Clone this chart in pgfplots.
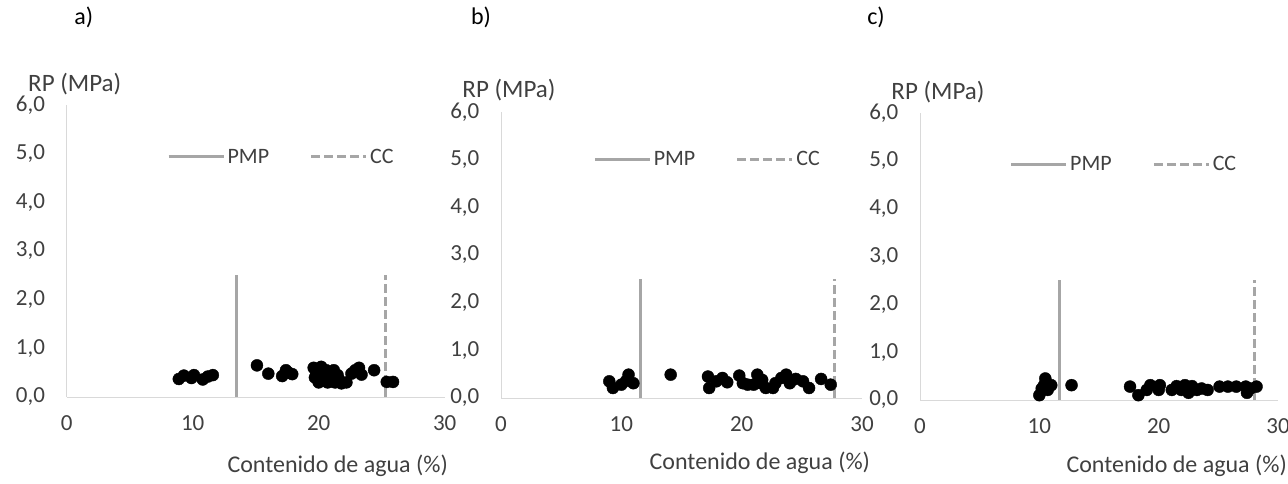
\documentclass[border=0pt]{standalone}
\usepackage{fontspec}
\setmainfont{Carlito}
\usepackage{pgfplots}
\usepackage{pgfplotstable}
\pgfplotsset{compat=1.18}
\definecolor{axgray}{HTML}{D9D9D9}
\definecolor{lgray}{HTML}{A6A6A6}
\definecolor{txt}{HTML}{404040}

\pgfplotstableread{
x y
8.9 0.37
9.3 0.44
9.9 0.39
10.1 0.45
10.8 0.36
11.2 0.42
11.6 0.45
15.1 0.65
16.0 0.48
17.1 0.43
17.4 0.55
17.6 0.50
17.9 0.47
19.6 0.60
19.7 0.40
19.8 0.50
20.0 0.30
20.2 0.62
20.3 0.45
20.4 0.36
20.6 0.55
20.7 0.30
20.9 0.42
21.0 0.32
21.2 0.55
21.3 0.30
21.5 0.45
21.6 0.36
21.8 0.28
22.2 0.30
22.6 0.48
22.9 0.55
23.2 0.60
23.4 0.46
24.4 0.55
25.4 0.31
25.9 0.31
}\dataA

\pgfplotstableread{
x y
9.0 0.35
9.3 0.21
10.0 0.28
10.4 0.36
10.6 0.49
11.0 0.31
14.1 0.49
17.2 0.45
17.3 0.21
17.9 0.35
18.4 0.42
18.8 0.33
19.8 0.47
20.1 0.31
20.5 0.28
21.0 0.28
21.3 0.49
21.6 0.31
21.7 0.38
22.0 0.21
22.6 0.21
22.8 0.31
23.3 0.42
23.7 0.49
24.0 0.31
24.5 0.40
25.1 0.35
25.6 0.21
26.6 0.40
27.4 0.28
}\dataB

\pgfplotstableread{
x y
10.0 0.10
10.2 0.24
10.4 0.31
10.5 0.45
10.7 0.21
11.0 0.31
12.7 0.31
17.6 0.28
18.3 0.10
19.0 0.21
19.3 0.31
20.0 0.21
20.1 0.31
21.1 0.21
21.5 0.29
21.9 0.21
22.2 0.31
22.5 0.15
22.8 0.29
23.2 0.21
23.6 0.24
24.1 0.21
25.1 0.28
25.8 0.28
26.5 0.28
27.3 0.28
27.4 0.15
27.7 0.24
28.2 0.28
}\dataC

\pgfplotsset{
  panel/.style={
    scale only axis, clip=false,
    anchor=south west,
    xmin=0, xmax=30, ymin=0, ymax=6,
    axis lines*=left,
    axis line style={draw=axgray, line width=1bp},
    major tick length=0pt,
    xtick={0,10,20,30}, ytick={0,1,...,6},
    /pgf/number format/assume math mode=true,
    yticklabel={\pgfmathprintnumber[fixed,fixed zerofill,precision=1,use comma]{\tick}},
    tick label style={font=\fontsize{23bp}{26bp}\selectfont, text=txt},
    xticklabel style={yshift=-15bp},
    yticklabel style={inner sep=1bp, xshift=-20.5bp},
    ylabel={RP (MPa)},
    xlabel={Contenido de agua (\%)},
    label style={font=\fontsize{25bp}{29bp}\selectfont, text=txt},
    xlabel style={font=\fontsize{24bp}{28bp}\selectfont, at={(rel axis cs:0.717,0)}, anchor=center},
    title style={font=\fontsize{24bp}{28bp}\selectfont, text=black, at={(rel axis cs:0,1)}, anchor=center},
    legend style={draw=none, fill=none, inner sep=0pt, legend columns=2,
      font=\fontsize{22bp}{26bp}\selectfont, text=txt, anchor=west,
      nodes={inner sep=2.5bp},
      /tikz/every even column/.append style={column sep=38bp}},
    legend image code/.code={\draw[##1] (0bp,0bp) -- (55bp,0bp);},
  },
  pmp/.style={lgray, line width=3bp},
  cc/.style={lgray, line width=3bp, dash pattern=on 9bp off 4bp},
  pts/.style={only marks, mark=*, mark size=6bp, black, forget plot},
}

\begin{document}
\begin{tikzpicture}
\useasboundingbox (0,0) rectangle (1288bp,484bp);

% panel a
\begin{axis}[panel, at={(66.7bp,87bp)}, width=378bp, height=292bp,
  title={a)}, title style={xshift=17bp, yshift=82bp},
  ylabel style={rotate=-90, at={(rel axis cs:0,1)}, anchor=base, inner sep=0pt, xshift=8bp, yshift=14bp},
  xlabel style={yshift=-69bp},
  legend style={at={(axis description cs:0.265,0.822)}}]
\addplot[pmp] coordinates {(13.5,0) (13.5,2.5)};
\addlegendentry{PMP}
\addplot[cc] coordinates {(25.3,0) (25.3,2.5)};
\addlegendentry{CC}
\addplot[pts] table[x=x,y=y] {\dataA};
\end{axis}

% panel b
\begin{axis}[panel, at={(501bp,86bp)}, width=361bp, height=286bp,
  title={b)}, title style={xshift=-20bp, yshift=89bp},
  ylabel style={rotate=-90, at={(rel axis cs:0,1)}, anchor=base, inner sep=0pt, xshift=8bp, yshift=15bp},
  xlabel style={yshift=-65bp},
  legend style={at={(axis description cs:0.255,0.835)}}]
\addplot[pmp] coordinates {(11.6,0) (11.6,2.5)};
\addlegendentry{PMP}
\addplot[cc] coordinates {(27.7,0) (27.7,2.5)};
\addlegendentry{CC}
\addplot[pts] table[x=x,y=y] {\dataB};
\end{axis}

% panel c
\begin{axis}[panel, at={(920bp,84bp)}, width=358bp, height=287bp,
  title={c)}, title style={xshift=-44bp, yshift=90bp},
  ylabel style={rotate=-90, at={(rel axis cs:0,1)}, anchor=base, inner sep=0pt, xshift=18bp, yshift=14bp},
  xlabel style={yshift=-66bp},
  legend style={at={(axis description cs:0.25,0.822)}}]
\addplot[pmp] coordinates {(11.7,0) (11.7,2.5)};
\addlegendentry{PMP}
\addplot[cc] coordinates {(28.0,0) (28.0,2.5)};
\addlegendentry{CC}
\addplot[pts] table[x=x,y=y] {\dataC};
\end{axis}
\end{tikzpicture}
\end{document}
